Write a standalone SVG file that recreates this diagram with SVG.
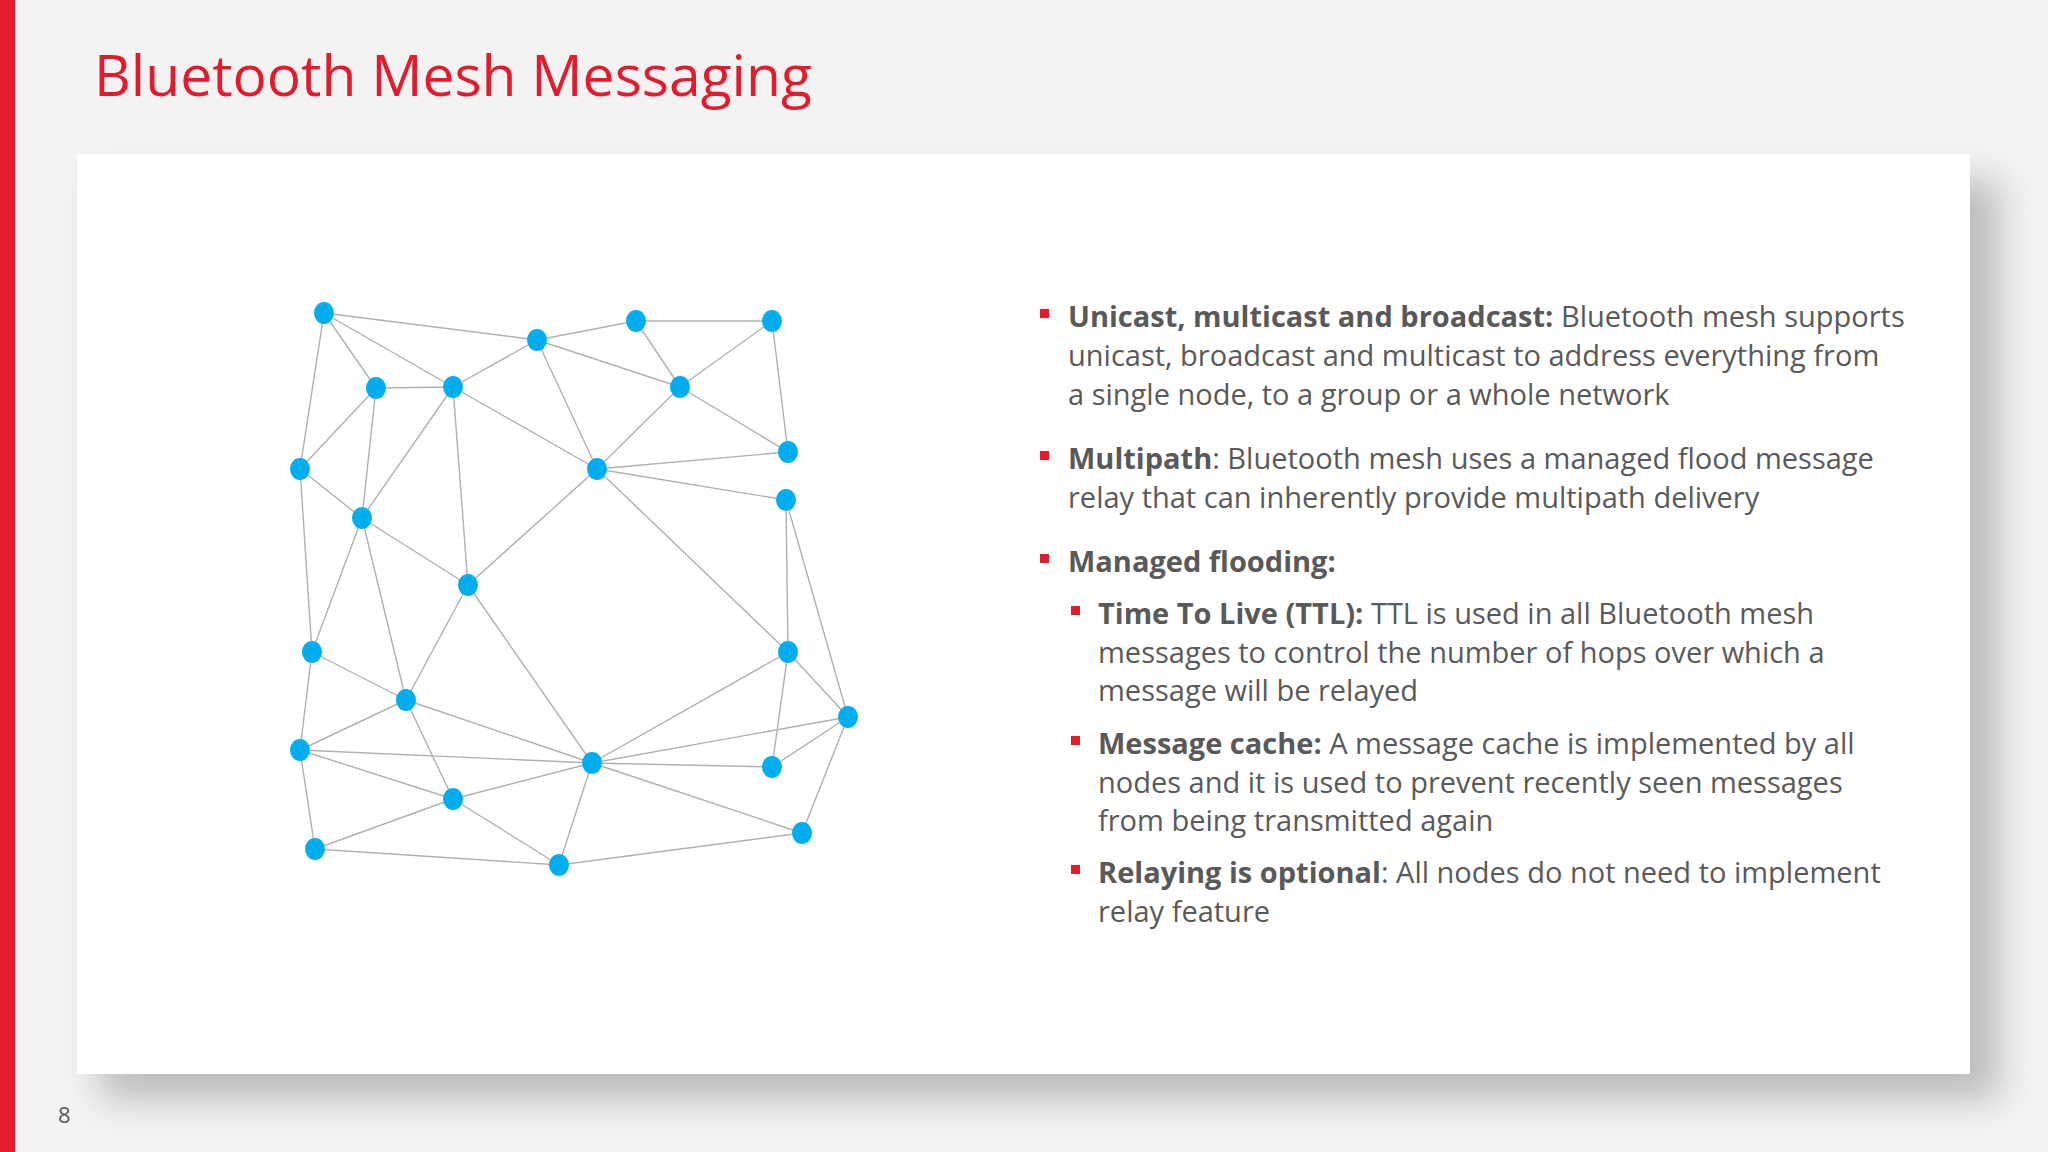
<svg xmlns="http://www.w3.org/2000/svg" width="2048" height="1152" viewBox="0 0 2048 1152">
<defs>
<filter id="sh" x="-10%" y="-10%" width="130%" height="130%"><feGaussianBlur stdDeviation="18"/></filter>
<style>
.e{stroke:#b0b0b0;stroke-width:1.4;fill:none}
.n{fill:#00aeef}
.t{font-family:"Open Sans","Liberation Sans",sans-serif;font-size:29px;fill:#595959}
.b{font-weight:bold}
.sq{fill:#e31c2d}
</style>
</defs>
<rect width="2048" height="1152" fill="#f3f3f3"/>
<rect x="0" y="0" width="15" height="1152" fill="#e31c2d"/>
<rect x="100" y="180" width="1900" height="920" fill="#bdbdbd" filter="url(#sh)"/>
<rect x="77" y="154" width="1893" height="920" fill="#ffffff"/>
<text x="94" y="96" font-family="Open Sans, Liberation Sans, sans-serif" font-size="57" fill="#e31c2d">Bluetooth Mesh Messaging</text>
<text x="58" y="1123" font-family="Open Sans, Liberation Sans, sans-serif" font-size="22" fill="#595959">8</text>
<g id="connectors">
<path class="e" d="M324,313L537,340M324,313L376,388M324,313L453,387M324,313L300,469M537,340L453,387M537,340L636,321M537,340L680,387M537,340L597,469M636,321L680,387M636,321L772,321M772,321L680,387M772,321L788,452M376,388L453,387M376,388L300,469M376,388L362,518M453,387L597,469M453,387L362,518M453,387L468,585M680,387L597,469M680,387L788,452M597,469L788,452M597,469L786,500M597,469L468,585M597,469L788,652M300,469L362,518M300,469L312,652M362,518L468,585M362,518L312,652M362,518L406,700M468,585L406,700M468,585L592,763M786,500L788,652M786,500L848,717M788,652L848,717M788,652L592,763M788,652L772,767M312,652L406,700M312,652L300,750M406,700L300,750M406,700L592,763M406,700L453,799M300,750L592,763M300,750L453,799M300,750L315,849M592,763L772,767M592,763L848,717M592,763L453,799M592,763L802,833M592,763L559,865M772,767L848,717M848,717L802,833M453,799L315,849M453,799L559,865M315,849L559,865M559,865L802,833"/>
</g>
<g id="nodes">
<g id="nA"><ellipse class="n" cx="324" cy="313" rx="10" ry="11"/></g>
<g id="nB"><ellipse class="n" cx="537" cy="340" rx="10" ry="11"/></g>
<g id="nC"><ellipse class="n" cx="636" cy="321" rx="10" ry="11"/></g>
<g id="nD"><ellipse class="n" cx="772" cy="321" rx="10" ry="11"/></g>
<g id="nE"><ellipse class="n" cx="376" cy="388" rx="10" ry="11"/></g>
<g id="nF"><ellipse class="n" cx="453" cy="387" rx="10" ry="11"/></g>
<g id="nG"><ellipse class="n" cx="680" cy="387" rx="10" ry="11"/></g>
<g id="nH"><ellipse class="n" cx="300" cy="469" rx="10" ry="11"/></g>
<g id="nI"><ellipse class="n" cx="597" cy="469" rx="10" ry="11"/></g>
<g id="nJ"><ellipse class="n" cx="788" cy="452" rx="10" ry="11"/></g>
<g id="nK"><ellipse class="n" cx="786" cy="500" rx="10" ry="11"/></g>
<g id="nL"><ellipse class="n" cx="362" cy="518" rx="10" ry="11"/></g>
<g id="nM"><ellipse class="n" cx="468" cy="585" rx="10" ry="11"/></g>
<g id="nN"><ellipse class="n" cx="312" cy="652" rx="10" ry="11"/></g>
<g id="nO"><ellipse class="n" cx="788" cy="652" rx="10" ry="11"/></g>
<g id="nP"><ellipse class="n" cx="406" cy="700" rx="10" ry="11"/></g>
<g id="nQ"><ellipse class="n" cx="848" cy="717" rx="10" ry="11"/></g>
<g id="nR"><ellipse class="n" cx="300" cy="750" rx="10" ry="11"/></g>
<g id="nS"><ellipse class="n" cx="592" cy="763" rx="10" ry="11"/></g>
<g id="nT"><ellipse class="n" cx="772" cy="767" rx="10" ry="11"/></g>
<g id="nU"><ellipse class="n" cx="453" cy="799" rx="10" ry="11"/></g>
<g id="nV"><ellipse class="n" cx="802" cy="833" rx="10" ry="11"/></g>
<g id="nW"><ellipse class="n" cx="315" cy="849" rx="10" ry="11"/></g>
<g id="nX"><ellipse class="n" cx="559" cy="865" rx="10" ry="11"/></g>
</g>
<g id="bullets">
<rect class="sq" x="1040" y="309" width="9" height="9"/>
<rect class="sq" x="1040" y="451" width="9" height="9"/>
<rect class="sq" x="1040" y="554" width="9" height="9"/>
<rect class="sq" x="1071" y="606" width="9" height="9"/>
<rect class="sq" x="1071" y="736" width="9" height="9"/>
<rect class="sq" x="1071" y="865" width="9" height="9"/>
<text class="t" x="1068" y="327"><tspan class="b">Unicast, multicast and broadcast:</tspan> Bluetooth mesh supports</text>
<text class="t" x="1068" y="366">unicast, broadcast and multicast to address everything from</text>
<text class="t" x="1068" y="405">a single node, to a group or a whole network</text>
<text class="t" x="1068" y="469"><tspan class="b">Multipath</tspan>: Bluetooth mesh uses a managed flood message</text>
<text class="t" x="1068" y="508">relay that can inherently provide multipath delivery</text>
<text class="t b" x="1068" y="572">Managed flooding:</text>
<text class="t" x="1098" y="624"><tspan class="b">Time To Live (TTL):</tspan> TTL is used in all Bluetooth mesh</text>
<text class="t" x="1098" y="663">messages to control the number of hops over which a</text>
<text class="t" x="1098" y="701">message will be relayed</text>
<text class="t" x="1098" y="754"><tspan class="b">Message cache:</tspan> A message cache is implemented by all</text>
<text class="t" x="1098" y="793">nodes and it is used to prevent recently seen messages</text>
<text class="t" x="1098" y="831">from being transmitted again</text>
<text class="t" x="1098" y="883"><tspan class="b">Relaying is optional</tspan>: All nodes do not need to implement</text>
<text class="t" x="1098" y="922">relay feature</text>
</g>
</svg>
